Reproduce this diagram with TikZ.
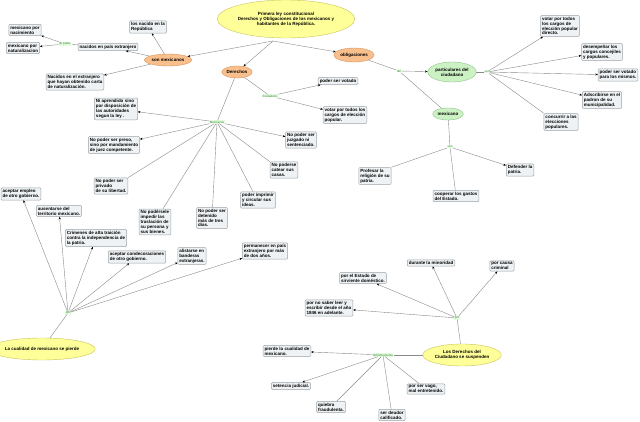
\documentclass[tikz,border=0pt]{standalone}
\usepackage{fontspec}
\setmainfont{Liberation Sans}
\usetikzlibrary{arrows.meta,shapes.geometric}
\definecolor{boxfill}{HTML}{EEF2F4}
\definecolor{boxdraw}{HTML}{9AA3A8}
\definecolor{orfill}{HTML}{F9C08E}
\definecolor{ordraw}{HTML}{D9955A}
\definecolor{grfill}{HTML}{CCF2C4}
\definecolor{grdraw}{HTML}{8FC48A}
\definecolor{yefill}{HTML}{FFFF99}
\definecolor{yedraw}{HTML}{C8C45A}
\definecolor{lbltext}{HTML}{2E8B2E}
\definecolor{lblfill}{HTML}{E4FBE0}
\definecolor{lncol}{HTML}{8A8A8A}
\tikzset{
 every node/.style={font=\fontsize{4.5}{4.9}\selectfont\bfseries},
 bx/.style={draw=boxdraw, fill=boxfill, rounded corners=1pt, line width=0.5pt, align=left, inner sep=1.5pt},
 ell/.style={ellipse, line width=0.4pt, inner sep=0.5pt, align=center},
 org/.style={ell, fill=orfill, draw=ordraw},
 grn/.style={ell, fill=grfill, draw=grdraw},
 yel/.style={ell, fill=yefill, draw=yedraw},
 lbl/.style={font=\fontsize{3}{3.5}\selectfont, text=lbltext, fill=lblfill, inner sep=0.4pt},
 ln/.style={draw=lncol, line width=0.4pt},
 ar/.style={ln, -{Stealth[length=2.6pt,width=2.2pt,black]}}
}
\begin{document}
\begin{tikzpicture}[x=1pt,y=-1pt]
\useasboundingbox[fill=white] (0,0) rectangle (640,422);

% title
\node[yel, minimum width=132pt, minimum height=38pt] (title) at (286,19) {Primera ley constitucional\\Derechos y Obligaciones de los mexicanos y\\habitantes de la República.};
\coordinate (tj) at (273,41);

% son mexicanos
\node[org, minimum width=38pt, minimum height=12pt] (sonmex) at (168,60) {son mexicanos};
\node[bx] (nacrep) at (148,27) {los nacido en la\\República};
\node[bx] (nacext) at (108,47) {nacidos en país extranjero};
\node[lbl] (padre) at (65,44) {de padre};
\node[bx] (mexnac) at (25,30) {mexicano por\\nacimiento};
\node[bx] (mexnat) at (23,48) {mexicano por\\naturalizacion};
\node[bx] (nacextr) at (75,82) {Nacidos en el extranjero\\que hayan obtenido carta\\de naturalización.};

% obligaciones / derechos
\node[org, minimum width=34pt, minimum height=14pt] (oblig) at (354,55) {obligaciones};
\node[org, minimum width=28pt, minimum height=12pt] (der) at (237,72) {Derechos};

% particulares
\node[lbl] (lobl) at (399,71) {del};
\node[grn, minimum width=44pt, minimum height=20pt] (partic) at (452,72) {particulares del\\ciudadano};
\node[grn, minimum width=28pt, minimum height=12pt] (mexo) at (448,114) {mexicano};
\node[lbl] (lpart) at (487,72) {son};
\node[bx] (p1) at (560,26) {votar por todos\\los cargos de\\elección popular\\directo.};
\node[bx] (p2) at (602,52) {desempeñar los\\cargos concejiles\\y populares.};
\node[bx] (p3) at (618,75) {poder ser votado\\para los mismos.};
\node[bx] (p4) at (602,100) {Adscribirse en el\\padron de su\\municipalidad.};
\node[bx] (p5) at (561,122) {concurrir a las\\elecciones\\populares.};

% mexicano obligaciones
\node[lbl] (lmexo) at (450,147) {son};
\node[bx] (m1) at (375,176) {Profesar la\\religión de su\\patria.};
\node[bx] (m2) at (456,196) {cooperar los gastos\\del Estado.};
\node[bx] (m3) at (520,170) {Defender la\\patria.};

% ciudadano rights
\node[lbl] (lciu) at (270,96) {Ciudadano};
\node[bx] (c1) at (338,81) {poder ser votado};
\node[bx] (c2) at (345,115) {votar por todos los\\cargos de elección\\popular.};

% mexicano rights
\node[lbl] (lmex) at (217,122) {Mexicanos};
\node[bx] (r1) at (116,109) {Ni aprendido sino\\por disposición de\\las autoridades\\segun la ley .};
\node[bx] (r2) at (114,145) {No poder ser preso,\\sino por mandamiento\\de juez competente.};
\node[bx] (r3) at (111,186) {No poder ser\\privado\\de su libertad.};
\node[bx] (r4) at (155,222) {No podérsele\\impedir las\\traslación de\\su persona y\\sus bienes.};
\node[bx] (r5) at (212,218) {No poder ser\\detenido\\ más de tres\\ dias.};
\node[bx] (r6) at (258,200) {poder imprimir\\y circular sus\\ideas.};
\node[bx] (r7) at (284,170) {No poderse\\catear sus\\casas.};
\node[bx] (r8) at (301,140) {No poder ser\\juzgado ni\\sentenciado.};

% cualidad se pierde
\node[yel, minimum width=78pt, minimum height=22pt] (cual) at (42,349) {La cualidad de mexicano se pierde};
\node[lbl] (lcual) at (68,313) {por};
\node[bx] (q1) at (21,194) {aceptar empleo\\de otro gobierno.};
\node[bx] (q2) at (59,211) {ausentarse del\\territorio mexicano.};
\node[bx] (q3) at (96,238) {Crimenes de alta traición\\contra la independencia de\\la patria.};
\node[bx] (q4) at (137,257) {aceptar condecoraciones\\de otro gobierno.};
\node[bx] (q5) at (192,256) {alistarse en\\banderas\\extranjeras.};
\node[bx] (q6) at (265,251) {permanecer en país\\extranjero por más\\de dos años.};

% suspenden
\node[yel, minimum width=62pt, minimum height=22pt] (susp) at (462,355) {Los Derechos del\\Ciudadano se suspenden};
\node[lbl] (lsusp) at (457,318) {por};
\node[bx] (s1) at (431,263) {durante la minoridad};
\node[bx] (s2) at (502,266) {por causa\\criminal};
\node[bx] (s3) at (363,278) {por el Estado de\\sirviente doméstico.};
\node[bx] (s4) at (329,308) {por no saber leer y\\escribir desde el año\\1846 en adelante.};
\node[lbl] (ldef) at (383,355) {definitivamente};
\node[bx] (d1) at (287,351) {pierde la cualidad de\\mexicano.};
\node[bx] (d2) at (291,386) {setencia judicial.};
\node[bx] (d3) at (331,407) {quiebra\\fraudulenta.};
\node[bx] (d4) at (392,415) {ser deudor\\calificado.};
\node[bx] (d5) at (426,389) {por ser vago,\\mal entretenido.};

% connectors
\draw[ar] (tj) -- (sonmex);
\draw[ar] (tj) -- (der);
\draw[ar] (tj) -- (oblig);
\draw[ar] (sonmex) -- (nacrep);
\draw[ar] (sonmex) -- (nacext);
\draw[ar] (sonmex) -- (nacextr);
\draw[ln] (nacext) -- (padre);
\draw[ar] (padre) -- (mexnac);
\draw[ar] (padre) -- (mexnat);

\draw[ln] (oblig) -- (lobl);
\draw[ar] (lobl) -- (partic);
\draw[ln] (lobl) -- (mexo);
\draw[ln] (partic) -- (lpart);
\draw[ar] (lpart) -- (p1);
\draw[ar] (lpart) -- (p2);
\draw[ar] (lpart) -- (p3);
\draw[ar] (lpart) -- (p4);
\draw[ln] (lpart) -- (p5.north west);
\draw[ln] (mexo) -- (lmexo);
\draw[ln] (lmexo) -- (m1.north east);
\draw[ln] (lmexo) -- (m2);
\draw[ar] (lmexo) -- (m3);

\draw[ln] (der) -- (lciu);
\draw[ar] (lciu) -- (c1);
\draw[ar] (lciu) -- (c2);
\draw[ln] (der) -- (lmex);
\draw[ar] (lmex) -- (r1);
\draw[ar] (lmex) -- (r2);
\draw[ln] (lmex) -- (r3.north east);
\draw[ln] (lmex) -- ([xshift=-8pt]r4.north east);
\draw[ln] (lmex) -- (r5);
\draw[ln] (lmex) -- ([xshift=-5pt]r6.north);
\draw[ln] (lmex) -- (r7.north west);
\draw[ar] (lmex) -- (r8);

\draw[ln] (cual) -- (lcual);
\draw[ar] (lcual) -- (q1);
\draw[ar] (lcual) -- (q2);
\draw[ar] (lcual) -- (q3);
\draw[ar] (lcual) -- (q4);
\draw[ar] (lcual) -- (q5);
\draw[ar] (lcual) -- (q6);

\draw[ln] (susp) -- (lsusp);
\draw[ar] (lsusp) -- (s1);
\draw[ar] (lsusp) -- (s2);
\draw[ar] (lsusp) -- (s3);
\draw[ar] (lsusp) -- (s4);
\draw[ln] (susp) -- (ldef);
\draw[ar] (ldef) -- (d1);
\draw[ar] (ldef) -- (d2);
\draw[ln] (ldef) -- (d3);
\draw[ln] (ldef) -- (d4);
\draw[ln] (ldef) -- (d5);
\end{tikzpicture}
\end{document}
